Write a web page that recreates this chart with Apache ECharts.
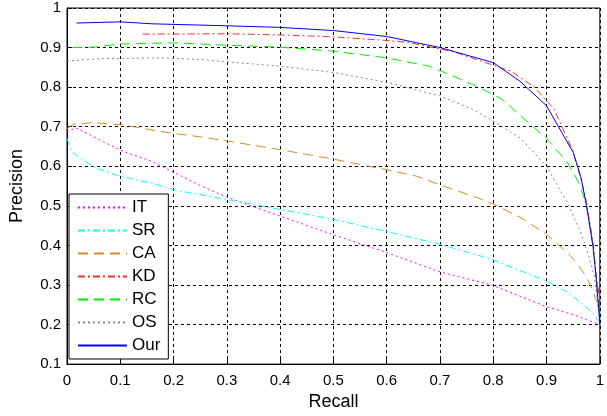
<!DOCTYPE html>
<html>
<head>
<meta charset="utf-8">
<script src="https://cdn.jsdelivr.net/npm/echarts@6/dist/echarts.min.js"></script>
<style>html,body{margin:0;padding:0;background:#fff;}#chart{width:607px;height:416px;}</style>
</head>
<body>
<div id="chart"></div>
<script>
var seriesNames = ['IT', 'SR', 'CA', 'KD', 'RC', 'OS', 'Our'];
var xTickLabels = ['0', '0.1', '0.2', '0.3', '0.4', '0.5', '0.6', '0.7', '0.8', '0.9', '1'];
var yTickLabels = ['0', '0.1', '0.2', '0.3', '0.4', '0.5', '0.6', '0.7', '0.8', '0.9', '1'];

var itRecall    = [0, 0.016, 0.031, 0.068, 0.105, 0.16, 0.197, 0.252, 0.3, 0.4, 0.5, 0.6, 0.7, 0.797, 0.9, 0.95, 0.975, 1.0];
var itPrecision = [0.687, 0.697, 0.688, 0.662, 0.638, 0.612, 0.587, 0.55, 0.522, 0.474, 0.427, 0.382, 0.333, 0.30, 0.245, 0.225, 0.213, 0.2];

var srRecall    = [0, 0.007, 0.013, 0.031, 0.055, 0.1, 0.16, 0.202, 0.264, 0.3, 0.4, 0.5, 0.6, 0.7, 0.797, 0.9, 0.938, 0.963, 0.987, 1.0];
var srPrecision = [0.67, 0.645, 0.632, 0.616, 0.595, 0.575, 0.557, 0.54, 0.525, 0.516, 0.491, 0.466, 0.435, 0.403, 0.365, 0.31, 0.283, 0.257, 0.228, 0.205];

var caRecall    = [0, 0.013, 0.05, 0.074, 0.1, 0.117, 0.154, 0.19, 0.252, 0.3, 0.4, 0.5, 0.6, 0.656, 0.7, 0.767, 0.803, 0.852, 0.9, 0.944, 0.956, 0.975, 0.984, 0.993, 1.0];
var caPrecision = [0.695, 0.707, 0.71, 0.708, 0.705, 0.702, 0.693, 0.685, 0.674, 0.664, 0.642, 0.618, 0.591, 0.575, 0.553, 0.522, 0.503, 0.47, 0.428, 0.375, 0.357, 0.32, 0.295, 0.262, 0.25];

var kdRecall    = [0.142, 0.16, 0.3, 0.4, 0.5, 0.6, 0.64, 0.724, 0.834, 0.877, 0.914, 0.95, 0.965, 0.975, 0.987, 0.993, 1.0];
var kdPrecision = [0.934, 0.934, 0.935, 0.932, 0.927, 0.918, 0.913, 0.89, 0.84, 0.80, 0.745, 0.637, 0.565, 0.51, 0.41, 0.33, 0.26];

var rcRecall    = [0.01, 0.05, 0.1, 0.2, 0.3, 0.4, 0.5, 0.6, 0.68, 0.73, 0.772, 0.816, 0.858, 0.9, 0.938, 0.963, 0.975, 0.987, 0.993, 1.0];
var rcPrecision = [0.9, 0.901, 0.909, 0.912, 0.906, 0.901, 0.891, 0.874, 0.853, 0.825, 0.80, 0.77, 0.72, 0.67, 0.612, 0.553, 0.50, 0.40, 0.32, 0.22];

var osRecall    = [0, 0.03, 0.068, 0.178, 0.25, 0.3, 0.4, 0.5, 0.6, 0.7, 0.76, 0.803, 0.852, 0.9, 0.938, 0.963, 0.98, 0.99, 0.996, 1.0];
var osPrecision = [0.866, 0.869, 0.872, 0.874, 0.87, 0.864, 0.853, 0.837, 0.812, 0.778, 0.745, 0.712, 0.67, 0.60, 0.51, 0.437, 0.37, 0.32, 0.25, 0.2];

var ourRecall    = [0.018, 0.1, 0.16, 0.3, 0.4, 0.5, 0.6, 0.7, 0.8, 0.85, 0.9, 0.95, 0.965, 0.975, 0.987, 0.993, 0.998, 1.0];
var ourPrecision = [0.962, 0.965, 0.96, 0.955, 0.951, 0.943, 0.928, 0.9, 0.862, 0.815, 0.753, 0.635, 0.57, 0.50, 0.40, 0.32, 0.237, 0.2];

var recallSets = [itRecall, srRecall, caRecall, kdRecall, rcRecall, osRecall, ourRecall];
var precisionSets = [itPrecision, srPrecision, caPrecision, kdPrecision, rcPrecision, osPrecision, ourPrecision];
var colors = ['#ff00ff', '#00ffff', '#dd8822', '#ff2a2a', '#00ee00', '#a8788c', '#0000ff'];
var dashes = [[2, 3], [7, 3, 2, 3], [10, 6], [7, 3, 2, 3], [10, 6], [2, 3], 'solid'];

var FONT = 'Liberation Sans, Arial, sans-serif';

var series = seriesNames.map(function (name, i) {
  return {
    name: name,
    type: 'line',
    symbol: 'none',
    showSymbol: false,
    animation: false,
    data: recallSets[i].map(function (x, j) { return [x, precisionSets[i][j]]; }),
    lineStyle: { color: colors[i], width: 1, type: dashes[i] },
    itemStyle: { color: colors[i] },
    z: 2 + i * 0.01
  };
});

var chart = echarts.init(document.getElementById('chart'), null, { renderer: 'canvas' });
chart.setOption({
  animation: false,
  backgroundColor: '#fff',
  grid: { left: 63, top: 8, right: 0, bottom: 48, show: true, borderColor: '#000', borderWidth: 1, backgroundColor: 'transparent' },
  legend: {
    data: seriesNames,
    orient: 'vertical',
    left: 69,
    top: 194,
    padding: [5, 8, 5, 8],
    itemWidth: 49,
    itemHeight: 13,
    itemGap: 6,
    backgroundColor: '#fff',
    borderColor: '#000',
    borderWidth: 1,
    borderRadius: 0,
    selectedMode: false,
    itemStyle: { color: 'transparent', borderColor: 'transparent', borderWidth: 0, opacity: 0 },
    textStyle: { fontFamily: FONT, fontSize: 17, color: '#000' },
    z: 10
  },
  xAxis: {
    type: 'value', min: 0, max: 1, interval: 0.1,
    name: 'Recall', nameLocation: 'middle', nameGap: 28,
    nameTextStyle: { fontFamily: FONT, fontSize: 18, color: '#000' },
    axisLine: { show: true, lineStyle: { color: '#000', width: 1 } },
    axisTick: { show: true, inside: true, length: 5, lineStyle: { color: '#000' } },
    axisLabel: { fontFamily: FONT, fontSize: 15, color: '#000', margin: 9,
      formatter: function (v) { return xTickLabels[Math.round(v * 10)]; } },
    splitLine: { show: true, lineStyle: { color: '#000', width: 1, type: [3, 3] } }
  },
  yAxis: {
    type: 'value', min: 0.1, max: 1, interval: 0.1,
    name: 'Precision', nameLocation: 'middle', nameGap: 41,
    nameTextStyle: { fontFamily: FONT, fontSize: 18, color: '#000' },
    axisLine: { show: true, lineStyle: { color: '#000', width: 1 } },
    axisTick: { show: true, inside: true, length: 5, lineStyle: { color: '#000' } },
    axisLabel: { fontFamily: FONT, fontSize: 15, color: '#000', margin: 6,
      formatter: function (v) { return yTickLabels[Math.round(v * 10)]; } },
    splitLine: { show: true, lineStyle: { color: '#000', width: 1, type: [3, 3] } }
  },
  series: series
});
</script>
</body>
</html>
